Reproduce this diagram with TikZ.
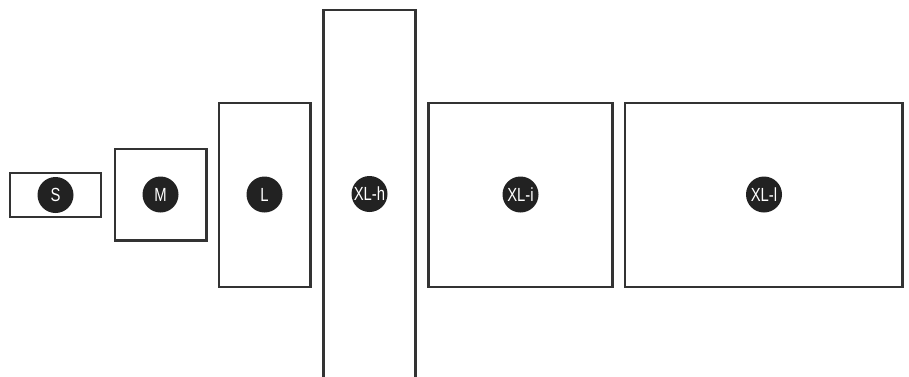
\documentclass[tikz,border=0pt]{standalone}
\usepackage{fontspec}
\setmainfont{Liberation Sans}
\newfontfamily\narrowfont[FakeStretch=0.78]{Liberation Sans}
\definecolor{linegray}{HTML}{333333}
\definecolor{dotfill}{HTML}{222222}
\tikzset{
  box/.style={draw=linegray, line width=2.2pt, fill=none},
  badge/.style={circle, fill=dotfill, minimum size=36pt, inner sep=0pt, text=white, font=\narrowfont\fontsize{19}{19}\selectfont},
}
\begin{document}
\begin{tikzpicture}[x=1pt,y=-1pt]
\useasboundingbox (0,0) rectangle (909,376);
\draw[box] (10,173) rectangle (101,217);
\draw[box] (115,149) rectangle (206.5,240.5);
\draw[box] (219,103) rectangle (310.5,287);
\draw[box] (323.5,10) rectangle (415.5,390);
\draw[box] (428.5,103) rectangle (612.5,287);
\draw[box] (625,103) rectangle (902.5,287);
\node[badge] (s) at (55.5,195) {S};
\node[badge] (m) at (160.5,194.5) {M};
\node[badge] (l) at (264.5,194.5) {L};
\node[badge] (xlh) at (369.5,194) {XL-h};
\node[badge] (xli) at (520.5,194.5) {XL-i};
\node[badge] (xll) at (764,194.5) {XL-l};
\end{tikzpicture}
\end{document}
